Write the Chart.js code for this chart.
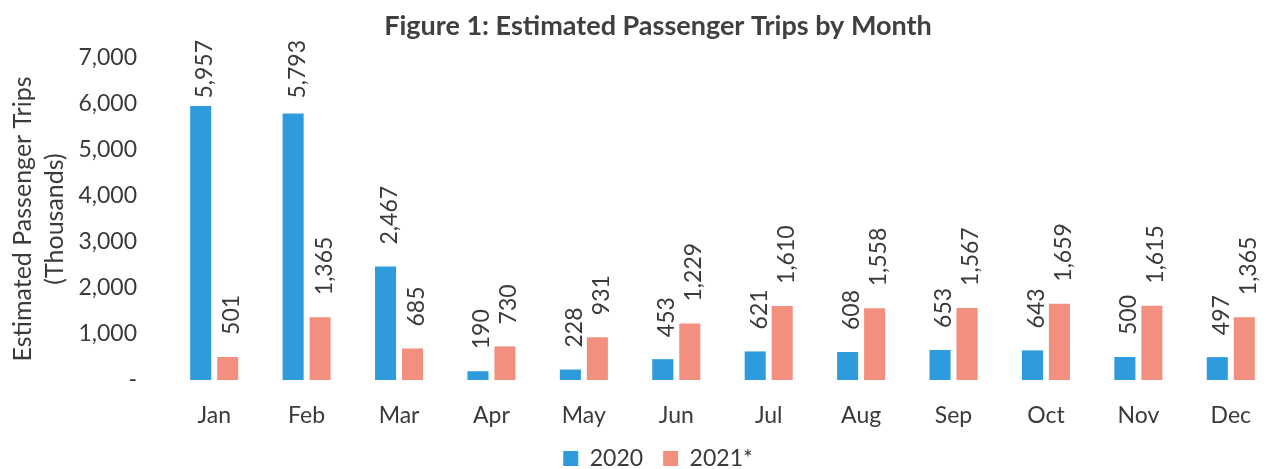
<!DOCTYPE html>
<html>
<head>
<meta charset="utf-8">
<script src="https://cdn.jsdelivr.net/npm/chart.js@4/dist/chart.umd.min.js"></script>
<style>
  html, body { margin: 0; padding: 0; background: #fff; overflow: hidden; }
  #wrap { width: 1316px; height: 480px; }
</style>
</head>
<body>
<div id="wrap"><canvas id="c" width="1316" height="480"></canvas></div>
<script>
const months = ['Jan','Feb','Mar','Apr','May','Jun','Jul','Aug','Sep','Oct','Nov','Dec'];
const trips2020 = [5957, 5793, 2467, 190, 228, 453, 621, 608, 653, 643, 500, 497];
const trips2021 = [501, 1365, 685, 730, 931, 1229, 1610, 1558, 1567, 1659, 1615, 1365];
const seriesNames = ['2020', '2021*'];
const chartTitle = 'Figure 1: Estimated Passenger Trips by Month';
const yTitle = ['Estimated Passenger Trips', '(Thousands)'];

const FONT = 'Lato, "Open Sans", sans-serif';
const TEXT = '#3a3a3a';

const valueLabels = {
  id: 'valueLabels',
  afterDatasetsDraw(chart) {
    const ctx = chart.ctx;
    ctx.save();
    ctx.font = '23px ' + FONT;
    ctx.fillStyle = TEXT;
    ctx.textAlign = 'left';
    ctx.textBaseline = 'middle';
    chart.data.datasets.forEach((ds, i) => {
      const meta = chart.getDatasetMeta(i);
      meta.data.forEach((bar, j) => {
        const v = ds.data[j];
        const txt = v.toLocaleString('en-US');
        const w = ctx.measureText(txt).width;
        let y = bar.y - 22;
        if (y - w < 40) y = 40 + w;
        ctx.save();
        ctx.translate(bar.x + 4, y);
        ctx.rotate(-Math.PI / 2);
        ctx.fillText(txt, 0, 0);
        ctx.restore();
      });
    });
    ctx.restore();
  }
};

new Chart(document.getElementById('c'), {
  type: 'bar',
  data: {
    labels: months,
    datasets: [
      { label: seriesNames[0], data: trips2020, backgroundColor: '#2E9BDD',
        barPercentage: 0.78, categoryPercentage: 0.584 },
      { label: seriesNames[1], data: trips2021, backgroundColor: '#F38F7E',
        barPercentage: 0.78, categoryPercentage: 0.584 }
    ]
  },
  options: {
    responsive: false,
    animation: false,
    devicePixelRatio: 1,
    layout: { padding: { top: 0, right: 39, left: 39, bottom: 0 } },
    plugins: {
      title: {
        display: true,
        text: chartTitle,
        color: '#404040',
        font: { family: FONT, size: 27, weight: 'bold' },
        padding: { top: 10, bottom: 15.6 }
      },
      legend: {
        position: 'bottom',
        labels: {
          color: TEXT,
          font: { family: FONT, size: 23 },
          boxWidth: 15,
          boxHeight: 15,
          padding: 20
        }
      },
      tooltip: { enabled: false }
    },
    scales: {
      x: {
        grid: { display: false, drawTicks: false },
        border: { display: false },
        ticks: { color: TEXT, font: { family: FONT, size: 23 }, padding: 22 },
        afterFit(scale) { scale.height = 47; }
      },
      y: {
        min: 0,
        max: 7000,
        grid: { display: false, drawTicks: false },
        border: { display: false },
        ticks: {
          stepSize: 1000,
          color: TEXT,
          font: { family: FONT, size: 23 },
          padding: 31,
          callback: (v) => v === 0 ? '-' : v.toLocaleString('en-US')
        },
        title: {
          display: true,
          text: yTitle,
          color: TEXT,
          font: { family: FONT, size: 25, lineHeight: 1.28 },
          padding: { top: -32, bottom: 0 }
        },
        afterFit(scale) { scale.width = 129; }
      }
    }
  },
  plugins: [valueLabels]
});
</script>
</body>
</html>
